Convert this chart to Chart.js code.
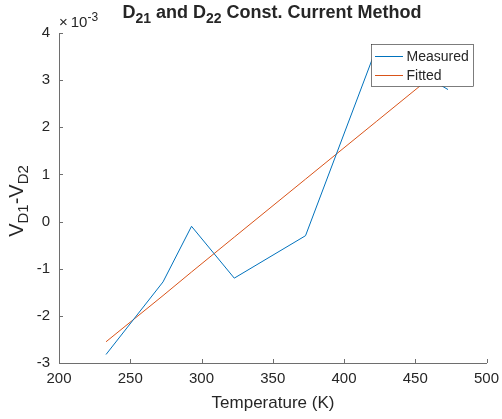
<!DOCTYPE html>
<html><head><meta charset="utf-8">
<script src="https://cdn.jsdelivr.net/npm/chart.js@4/dist/chart.umd.min.js"></script>
<style>html,body{margin:0;padding:0;background:#fff;overflow:hidden}#w{width:502px;height:419px;position:relative}</style>
</head><body><div id="w"><canvas id="c"></canvas></div>
<script>
// Data (volts)
const temperatures = [233, 273, 293, 323, 373, 423, 473];
const measured = [-0.00282, -0.00128, -0.00010, -0.00120, -0.00030, 0.00370, 0.00280];
const fitted   = [-0.00255, -0.00157, -0.00107, -0.00033, 0.00090, 0.00213, 0.00336];
const seriesNames = ['Measured', 'Fitted'];
const seriesColors = ['#0072BD', '#D95319'];
const xTickValues = [200, 250, 300, 350, 400, 450, 500];
const yTickValues = [-3, -2, -1, 0, 1, 2, 3, 4]; // ×10^-3

const TXT = '#262626';
const AX = '#6e6e6e';
const FONT = '"Liberation Sans", Arial, Helvetica, sans-serif';

function pts(ys){ return temperatures.map((t,i)=>({x:t, y:ys[i]})); }

function richText(ctx, parts, x, y, align){
  let w = 0;
  parts.forEach(p=>{ ctx.font = (p.bold?'bold ':'') + p.size + 'px ' + FONT; p.w = ctx.measureText(p.t).width + (p.gap||0); w += p.w; });
  let cx = align==='center' ? x - w/2 : x;
  parts.forEach(p=>{ ctx.font = (p.bold?'bold ':'') + p.size + 'px ' + FONT; ctx.fillText(p.t, cx, y + (p.dy||0)); cx += p.w; });
}

const decor = {
  id: 'decor',
  afterDraw(chart){
    const ctx = chart.ctx, a = chart.chartArea;
    const xs = chart.scales.x, ys = chart.scales.y;
    ctx.save();
    ctx.textAlign = 'left';
    // inward ticks
    ctx.strokeStyle = AX; ctx.lineWidth = 1;
    ctx.beginPath();
    xTickValues.forEach(v=>{ const px = Math.round(xs.getPixelForValue(v))+0.5; ctx.moveTo(px, a.bottom); ctx.lineTo(px, a.bottom-4); });
    yTickValues.forEach(v=>{ const py = Math.round(ys.getPixelForValue(v/1000))+0.5; ctx.moveTo(a.left, py); ctx.lineTo(a.left+4, py); });
    ctx.stroke();

    ctx.fillStyle = TXT; ctx.textBaseline = 'alphabetic';
    // title
    richText(ctx, [
      {t:'D', size:18, bold:true},
      {t:'21', size:14, bold:true, dy:5},
      {t:' and D', size:18, bold:true},
      {t:'22', size:14, bold:true, dy:5},
      {t:' Const. Current Method', size:18, bold:true}
    ], 272, 18, 'center');
    // exponent
    richText(ctx, [
      {t:'\u00d7', size:15, gap:3},
      {t:'10', size:15},
      {t:'-3', size:12, dy:-6}
    ], 59, 27, 'left');
    // x title
    richText(ctx, [{t:'Temperature (K)', size:17}], 273, 408, 'center');
    // y title
    ctx.save();
    ctx.translate(23, 201);
    ctx.rotate(-Math.PI/2);
    richText(ctx, [
      {t:'V', size:20},
      {t:'D1', size:15, dy:5},
      {t:'-V', size:20},
      {t:'D2', size:15, dy:5}
    ], 0, 0, 'center');
    ctx.restore();

    // legend
    const lx = 371.5, ly = 44.5, lw = 102, lh = 42;
    ctx.fillStyle = '#fff';
    ctx.fillRect(lx, ly, lw, lh);
    ctx.strokeStyle = '#262626'; ctx.lineWidth = 0.6;
    ctx.strokeRect(lx, ly, lw, lh);
    seriesNames.forEach((n,i)=>{
      const yy = 56 + i*19;
      ctx.strokeStyle = seriesColors[i]; ctx.lineWidth = 1;
      ctx.beginPath(); ctx.moveTo(375, yy+0.5); ctx.lineTo(403, yy+0.5); ctx.stroke();
      ctx.fillStyle = TXT; ctx.font = '14px ' + FONT; ctx.textBaseline = 'middle';
      ctx.fillText(n, 406.5, yy+1);
    });
    ctx.restore();
  }
};

new Chart(document.getElementById('c'), {
  type: 'line',
  data: {
    datasets: [
      {label: seriesNames[0], data: pts(measured), borderColor: seriesColors[0], borderWidth: 1, pointRadius: 0, fill: false, tension: 0},
      {label: seriesNames[1], data: pts(fitted), borderColor: seriesColors[1], borderWidth: 1, pointRadius: 0, fill: false, tension: 0}
    ]
  },
  options: {
    responsive: true, maintainAspectRatio: false, animation: false,
    layout: {padding: {top: 33, right: 15.5, left: 0, bottom: 0}},
    plugins: {legend: {display: false}, title: {display: false}, tooltip: {enabled: false}},
    scales: {
      x: {
        type: 'linear', min: 200, max: 500,
        afterBuildTicks: s => { s.ticks = xTickValues.map(v=>({value:v})); },
        ticks: {color: TXT, font: {family: FONT, size: 15}, padding: 7, maxRotation: 0},
        grid: {display: false, drawTicks: false},
        border: {display: true, color: AX, width: 1},
        afterFit: s => { s.height = 56; s.paddingRight = 0; s.paddingLeft = 0; }
      },
      y: {
        type: 'linear', min: -0.003, max: 0.004,
        afterBuildTicks: s => { s.ticks = yTickValues.map(v=>({value:v/1000})); },
        ticks: {color: TXT, font: {family: FONT, size: 15}, padding: 9, callback: v => String(Math.round(v*1000))},
        grid: {display: false, drawTicks: false},
        border: {display: true, color: AX, width: 1},
        afterFit: s => { s.width = 59; s.paddingTop = 0; s.paddingBottom = 0; }
      }
    }
  },
  plugins: [decor]
});
</script>
</body></html>
